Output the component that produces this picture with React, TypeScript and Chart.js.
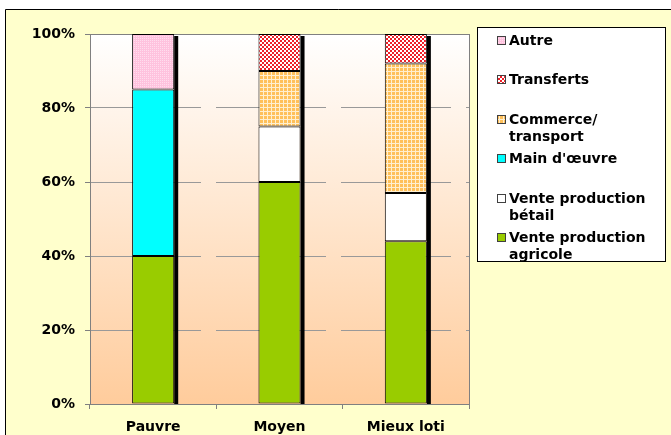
import { useEffect, useRef } from 'react';
import { Chart, registerables } from 'chart.js';

Chart.register(...registerables);

// Income sources by household wealth group (share of total, %)
const categories = ['Pauvre', 'Moyen', 'Mieux loti'];
const venteAgricole = [40, 60, 44];
const venteBetail = [0, 15, 13];
const mainOeuvre = [45, 0, 0];
const commerceTransport = [0, 15, 35];
const transferts = [0, 10, 8];
const autre = [15, 0, 0];

const yTickValues = [0, 20, 40, 60, 80, 100];

// Legend text, one entry per line
const labelAgricole = ['Vente production', 'agricole'];
const labelBetail = ['Vente production', 'bétail'];
const labelMain = ["Main d'œuvre"];
const labelCommerce = ['Commerce/', 'transport'];
const labelTransferts = ['Transferts'];
const labelAutre = ['Autre'];

const FONT = '"DejaVu Sans", Verdana, sans-serif';

function tile(size: number, paint: (c: CanvasRenderingContext2D) => void): CanvasPattern | string {
  const cv = document.createElement('canvas');
  cv.width = size;
  cv.height = size;
  const c = cv.getContext('2d');
  if (!c) return '#ccc';
  paint(c);
  return c.createPattern(cv, 'repeat') || '#ccc';
}

export default function App() {
  const ref = useRef<HTMLCanvasElement | null>(null);

  useEffect(() => {
    const canvas = ref.current;
    if (!canvas) return;

    const pinkFill = tile(2, (c) => {
      c.fillStyle = '#FFC2DE';
      c.fillRect(0, 0, 2, 2);
      c.fillStyle = '#FFDDEE';
      c.fillRect(0, 0, 1, 1);
    });
    const redFill = tile(4, (c) => {
      c.fillStyle = '#FFFFFF';
      c.fillRect(0, 0, 4, 4);
      c.fillStyle = '#EE2028';
      c.fillRect(0, 0, 2, 2);
      c.fillRect(2, 2, 2, 2);
    });
    const orangeFill = tile(4, (c) => {
      c.fillStyle = '#FFC05A';
      c.fillRect(0, 0, 4, 4);
      c.fillStyle = '#FFEFCF';
      c.fillRect(3, 0, 1, 4);
      c.fillRect(0, 3, 4, 1);
    });

    const series = [
      { lines: labelAgricole, data: venteAgricole, fill: '#99CC00' as CanvasPattern | string },
      { lines: labelBetail, data: venteBetail, fill: '#FFFFFF' as CanvasPattern | string },
      { lines: labelMain, data: mainOeuvre, fill: '#00FFFF' as CanvasPattern | string },
      { lines: labelCommerce, data: commerceTransport, fill: orangeFill },
      { lines: labelTransferts, data: transferts, fill: redFill },
      { lines: labelAutre, data: autre, fill: pinkFill },
    ];

    const frame = {
      id: 'frame',
      beforeDraw(chart: Chart) {
        const { ctx, chartArea: a, width, height } = chart;
        ctx.save();
        ctx.fillStyle = '#FFFFFF';
        ctx.fillRect(0, 0, width, height);
        ctx.fillStyle = '#FFFFCC';
        ctx.fillRect(5, 9, width, height);
        ctx.strokeStyle = '#000000';
        ctx.lineWidth = 1;
        ctx.beginPath();
        ctx.moveTo(5.5, height + 2);
        ctx.lineTo(5.5, 9.5);
        ctx.lineTo(width + 2, 9.5);
        ctx.stroke();
        const g = ctx.createLinearGradient(0, a.top, 0, a.bottom);
        g.addColorStop(0, '#FFFFFF');
        g.addColorStop(1, '#FFCC9C');
        ctx.fillStyle = g;
        ctx.fillRect(a.left, a.top, a.right - a.left, a.bottom - a.top);
        ctx.restore();
      },
      beforeDatasetsDraw(chart: Chart) {
        const { ctx, chartArea: a } = chart;
        ctx.save();
        // plot frame
        ctx.strokeStyle = '#808080';
        ctx.lineWidth = 1;
        ctx.strokeRect(Math.round(a.left) + 0.5, Math.round(a.top) + 0.5, Math.round(a.right - a.left), Math.round(a.bottom - a.top));
        // depth shadow on the right of every column
        ctx.fillStyle = '#000000';
        categories.forEach((_, i) => {
          let top = a.bottom;
          let right = 0;
          chart.data.datasets.forEach((ds, di) => {
            const el: any = chart.getDatasetMeta(di).data[i];
            if (!el) return;
            right = el.x + el.width / 2;
            if ((ds.data[i] as number) > 0) top = Math.min(top, el.y);
          });
          ctx.fillRect(right, top + 2, 4, a.bottom - top - 2);
        });
        ctx.restore();
      },
      afterDraw(chart: Chart) {
        const { ctx } = chart;
        ctx.save();
        // legend box
        ctx.fillStyle = '#FFFFFF';
        ctx.fillRect(477, 27, 188, 234);
        ctx.strokeStyle = '#000000';
        ctx.lineWidth = 1;
        ctx.strokeRect(477.5, 27.5, 188, 234);
        ctx.font = `bold 14px ${FONT}`;
        ctx.textBaseline = 'middle';
        ctx.textAlign = 'left';
        const items = series.slice().reverse();
        items.forEach((s, k) => {
          const y = Math.round(40 + k * 39.4);
          ctx.fillStyle = s.fill as any;
          ctx.fillRect(497, y - 4, 8, 8);
          ctx.strokeStyle = '#404040';
          ctx.strokeRect(497.5, y - 3.5, 8, 8);
          ctx.fillStyle = '#000000';
          s.lines.forEach((line, li) => {
            ctx.fillText(line, 509, y + li * 17 + 1);
          });
        });
        ctx.restore();
      },
    };

    const chart = new Chart(canvas, {
      type: 'bar',
      data: {
        labels: categories,
        datasets: series.map((s) => ({
          label: s.lines.join(' '),
          data: s.data,
          backgroundColor: s.fill as any,
          borderColor: '#000000',
          borderWidth: 1,
          borderSkipped: false,
          barPercentage: 0.333,
          categoryPercentage: 1,
        })),
      },
      options: {
        animation: false,
        responsive: false,
        devicePixelRatio: 1,
        layout: { padding: { top: 34, right: 202, left: 0, bottom: 0 } },
        plugins: { legend: { display: false }, tooltip: { enabled: false } },
        font: { family: FONT },
        scales: {
          x: {
            stacked: true,
            grid: { offset: true, drawOnChartArea: false, tickLength: 5, color: '#808080' },
            border: { color: '#808080' },
            ticks: { color: '#000000', padding: 10, font: { family: FONT, size: 14, weight: 'bold' } },
            afterFit: (s: any) => {
              s.height = 31;
            },
          },
          y: {
            stacked: true,
            min: 0,
            max: 100,
            afterBuildTicks: (s: any) => {
              s.ticks = yTickValues.map((v) => ({ value: v }));
            },
            ticks: {
              color: '#000000',
              padding: 10,
              font: { family: FONT, size: 14, weight: 'bold' },
              callback: (v: any) => `${v}%`,
            },
            grid: { color: '#999999', tickLength: 5, tickColor: '#808080' },
            border: { color: '#808080', dash: [110, 15] },
            afterFit: (s: any) => {
              s.width = 90;
            },
          },
        },
      } as any,
      plugins: [frame],
    });

    return () => chart.destroy();
  }, []);

  return (
    <div style={{ position: 'fixed', left: 0, top: 0, width: 671, height: 435 }}>
      <canvas ref={ref} width={671} height={435} style={{ display: 'block' }} />
    </div>
  );
}
